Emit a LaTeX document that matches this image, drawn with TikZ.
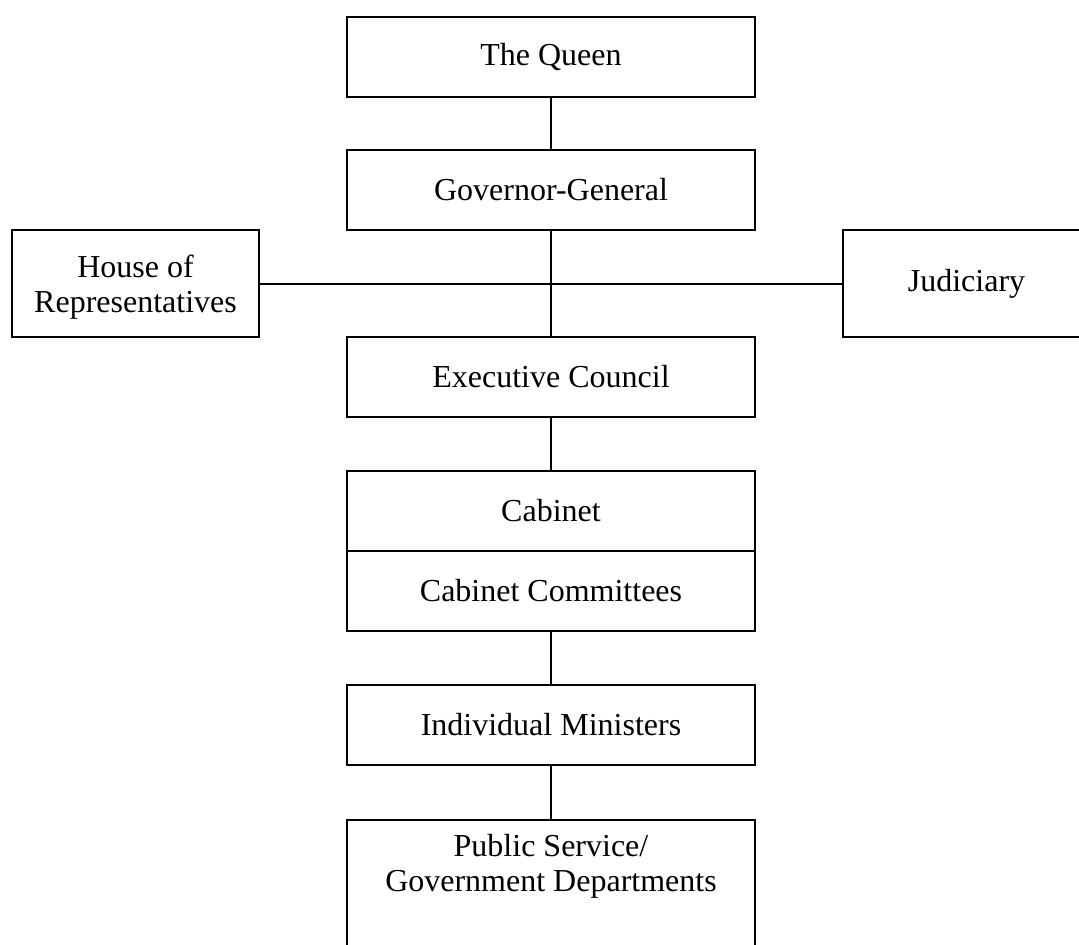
\documentclass[tikz,border=0pt]{standalone}
\usepackage{fontspec}
\setmainfont{Liberation Serif}
\usetikzlibrary{positioning}

\begin{document}
\begin{tikzpicture}[x=0.5pt,y=-0.5pt,font=\fontsize{16}{17.5}\selectfont,line width=1pt,
  box/.style={draw,align=center,minimum width=204pt,minimum height=40pt,inner sep=0pt},
  side/.style={draw,align=center,minimum width=123.5pt,minimum height=53.5pt,inner sep=0pt}]
  \clip (0,0) rectangle (1079,944);
  \node[box] (queen) at (551,56.5) {The Queen};
  \node[box] (gov) at (551,190) {Governor-General};
  \node[side,text depth=0pt] (house) at (135.5,283.5) {House of\\Representatives};
  \node[side] (judi) at (966.5,283.5) {Judiciary};
  \node[box] (exec) at (551,377) {Executive Council};
  \node[box] (cab) at (551,511) {Cabinet};
  \node[box,below=-1pt of cab] (cabcom) {Cabinet Committees};
  \node[box] (mini) at (551,725) {Individual Ministers};
  % box runs off the page
  \node[box,minimum height=80pt,anchor=north] (pub) at (551,819) {};
  \node[align=center] (pubtext) at (551,866) {Public Service/\\Government Departments};
  \draw (queen) -- (gov);
  \draw (gov) -- (exec);
  \draw (house) -- (judi);
  \draw (exec) -- (cab);
  \draw (cabcom) -- (mini);
  \draw (mini) -- (pub);
\end{tikzpicture}
\end{document}
